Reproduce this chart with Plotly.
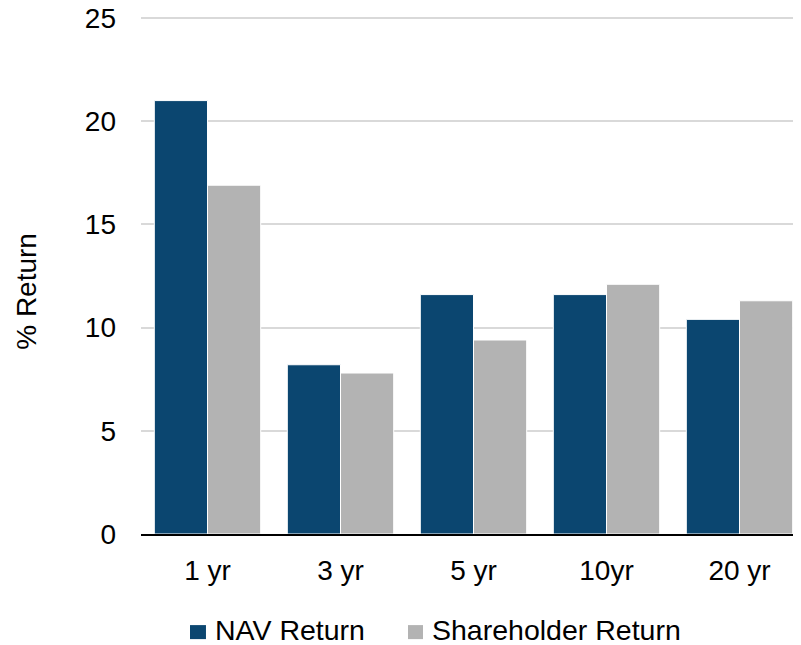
import plotly.graph_objects as go

categories = ["1 yr", "3 yr", "5 yr", "10yr", "20 yr"]
nav_return = [21.0, 8.2, 11.6, 11.6, 10.4]
shareholder_return = [16.9, 7.8, 9.4, 12.1, 11.3]
y_ticks = [0, 5, 10, 15, 20, 25]

nav_color = "#0B4670"
sh_color = "#B3B3B3"

fig = go.Figure()
fig.add_trace(go.Bar(x=categories, y=nav_return, name="NAV Return",
                     marker=dict(color=nav_color, line=dict(color="white", width=1))))
fig.add_trace(go.Bar(x=categories, y=shareholder_return, name="Shareholder Return",
                     marker=dict(color=sh_color, line=dict(color="white", width=1))))

font = "Liberation Sans, Arial, sans-serif"
fig.update_layout(
    width=801, height=645,
    margin=dict(l=133, r=3, t=9, b=119),
    paper_bgcolor="white", plot_bgcolor="white",
    barmode="group", bargap=0.2, bargroupgap=0,
    font=dict(family=font, size=28, color="black"),
    showlegend=False,
)

# manual legend (squares + labels) below the plot
legend_items = [("NAV Return", nav_color, 0.0737, 0.0977, 0.1083),
                ("Shareholder Return", sh_color, 0.4015, 0.4241, 0.4346)]
for name, col, sx0, sx1, tx in legend_items:
    fig.add_shape(type="rect", xref="paper", yref="paper", x0=sx0, x1=sx1,
                  y0=-0.2033, y1=-0.1762, fillcolor=col, line=dict(width=0))
    fig.add_annotation(text=name, xref="paper", yref="paper", x=tx, y=-0.186,
                       xanchor="left", yanchor="middle", showarrow=False,
                       font=dict(size=28.5, family=font, color="black"))

# y axis title
fig.add_annotation(text="% Return", xref="paper", yref="paper", x=0, xshift=-114,
                   y=0.4685, xanchor="center", yanchor="middle", textangle=-90,
                   showarrow=False, font=dict(size=28, family=font, color="black"))

fig.update_yaxes(range=[0, 25.05], tickvals=y_ticks, showgrid=True, gridcolor="#D9D9D9",
                 gridwidth=1.5, zeroline=False, showline=False, ticks="",
                 ticklabelstandoff=24, automargin=False, ticklabeloverflow="allow")
fig.update_xaxes(showline=True, linecolor="black", linewidth=2, ticks="",
                 ticklabelstandoff=10, automargin=False, ticklabeloverflow="allow")

fig.write_html("out.html")
